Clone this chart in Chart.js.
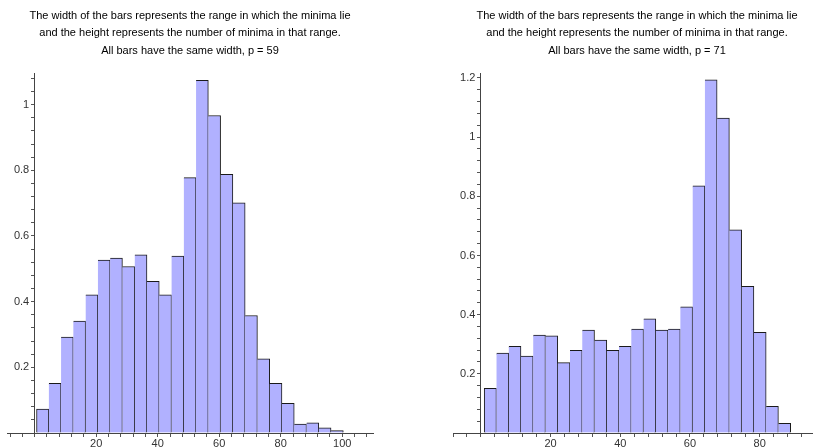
<!DOCTYPE html>
<html><head><meta charset="utf-8">
<script src="https://cdn.jsdelivr.net/npm/chart.js@4/dist/chart.umd.min.js"></script>
<style>
html,body{margin:0;width:813px;height:448px;overflow:hidden;background:#fff}
.box{position:absolute;top:0;height:448px}
#a{left:0;width:400px}
#b{left:446px;width:375px}
</style></head><body>
<div class="box" id="a"><canvas id="c1"></canvas></div>
<div class="box" id="b"><canvas id="c2"></canvas></div>
<script>
// p = 59 : bin edges and bar heights
const edges59=[0.6,4.59,8.58,12.57,16.56,20.55,24.54,28.53,32.52,36.51,40.5,44.49,48.48,
 52.47,56.46,60.45,64.44,68.43,72.42,76.41,80.4,84.39,88.38,92.37,96.36,100.35];
const dens59=[0.073,0.151,0.292,0.341,0.421,0.527,0.533,0.507,0.543,0.462,0.421,0.539,0.778,
 1.074,0.967,0.788,0.701,0.358,0.226,0.151,0.090,0.027,0.031,0.016,0.007];
const xLab59=[20,40,60,80,100], yLab59=[0.2,0.4,0.6,0.8,1];

// p = 71
const edges71=[0.95,4.47,7.99,11.5,15.02,18.54,22.06,25.58,29.09,32.61,36.13,39.65,43.17,
 46.68,50.2,53.72,57.24,60.76,64.27,67.79,71.31,74.83,78.35,81.86,85.38,88.9];
const dens71=[0.151,0.270,0.293,0.260,0.331,0.328,0.238,0.279,0.348,0.314,0.279,0.293,0.351,
 0.386,0.348,0.351,0.426,0.835,1.194,1.064,0.687,0.496,0.340,0.090,0.033];
const xLab71=[20,40,60,80], yLab71=[0.2,0.4,0.6,0.8,1,1.2];

Chart.defaults.font.family='"Liberation Sans", Arial, sans-serif';
Chart.defaults.font.size=11;
Chart.defaults.color='#333';

const steps=(lo,hi,st)=>{const a=[];for(let v=lo;v<=hi+1e-9;v+=st)a.push({value:+v.toFixed(3)});return a;};
const has=(arr,v)=>arr.some(l=>Math.abs(l-v)<1e-6);

function hist(id,p,edges,dens,xr,ymax,xLab,yLab,padR){
 const pts=dens.map((v,i)=>({x:(edges[i]+edges[i+1])/2,y:v}));
 return new Chart(id,{type:'bar',
  data:{datasets:[{data:pts,backgroundColor:'#b1b1ff',borderColor:'#1a1a1a',
   borderWidth:c=>({top:1,right:1,left:c.dataIndex?0:1,bottom:0}),borderSkipped:false,
   barPercentage:1,categoryPercentage:1,grouped:false}]},
  options:{responsive:true,maintainAspectRatio:false,animation:false,
   layout:{padding:{left:7,right:padR,bottom:15,top:0}},
   plugins:{legend:{display:false},tooltip:{enabled:false},
    title:{display:true,color:'#000',font:{size:11,weight:'normal',lineHeight:1.6},padding:{top:7,bottom:14},
     text:['The width of the bars represents the range in which the minima lie',
      'and the height represents the number of minima in that range.',
      'All bars have the same width, p = '+p]}},
   scales:{
    x:{type:'linear',position:{y:0},min:xr[0],max:xr[1],offset:false,
     afterBuildTicks:s=>{s.ticks=steps(Math.ceil(xr[0]/4)*4,xr[1],4)},
     ticks:{autoSkip:false,maxRotation:0,padding:1,callback:v=>has(xLab,v)?String(v):''},
     grid:{drawOnChartArea:false,tickLength:3,color:'#555',offset:false},
     border:{color:'#444'}},
    // axis sits at x = 0, labels are right-aligned against it, so pad with an en space
    y:{type:'linear',position:{x:0},min:0,max:ymax,
     afterBuildTicks:s=>{s.ticks=steps(0,ymax,0.04)},
     ticks:{autoSkip:false,callback:v=>v>0&&has(yLab,v)?String(+v.toFixed(1))+'\u2002':''},
     grid:{drawOnChartArea:false,tickLength:3,color:'#555'},
     border:{color:'#444'}}
   }}});
}

hist(c1,59,edges59,dens59,[-9,110],1.094,xLab59,yLab59,27);
hist(c2,71,edges71,dens71,[-8,97.6],1.214,xLab71,yLab71,0);
</script>
</body></html>
